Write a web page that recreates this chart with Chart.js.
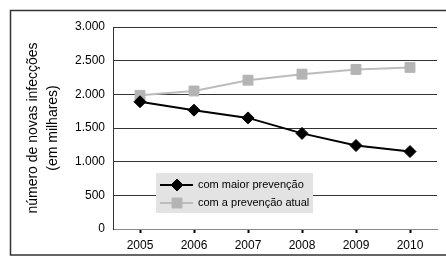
<!DOCTYPE html>
<html>
<head>
<meta charset="utf-8">
<script src="https://cdn.jsdelivr.net/npm/chart.js@4"></script>
<style>
  html, body { margin: 0; padding: 0; background: #fff; }
  canvas { display: block; }
</style>
</head>
<body>
<canvas id="grafico" width="446" height="266"></canvas>
<script>
// anos e valores (em milhares)
const anos = ['2005', '2006', '2007', '2008', '2009', '2010'];
const maior_prevencao = [1890, 1765, 1650, 1420, 1240, 1150];
const prevencao_atual = [1985, 2050, 2210, 2300, 2370, 2400];
const y_ticks = [0, 500, 1000, 1500, 2000, 2500, 3000];
const titulo_y = ['número de novas infecções', '(em milhares)'];

function milhar(v) {
    return v.toString().replace(/\B(?=(\d{3})+(?!\d))/g, '.');
}

// moldura em volta de tudo
const moldura = {
    id: 'moldura',
    beforeDraw(chart) {
        const ctx = chart.ctx;
        ctx.save();
        ctx.strokeStyle = '#333';
        ctx.lineWidth = 1.5;
        ctx.strokeRect(10.5, 10.5, 460, 244.5);
        ctx.restore();
    }
};

// legenda dentro da area do grafico, com fundo cinza
const legenda_caixa = {
    id: 'legenda_caixa',
    afterDatasetsDraw(chart) {
        const ctx = chart.ctx;
        ctx.save();
        ctx.fillStyle = '#e3e3e3';
        ctx.fillRect(156, 173, 157, 40);
        chart.data.datasets.forEach((ds, i) => {
            const y = 185 + i * 18;
            ctx.strokeStyle = ds.borderColor;
            ctx.lineWidth = ds.borderWidth;
            ctx.beginPath();
            ctx.moveTo(160, y);
            ctx.lineTo(193, y);
            ctx.stroke();
            ctx.fillStyle = ds.pointBackgroundColor;
            ctx.strokeStyle = ds.pointBorderColor;
            ctx.lineWidth = 1;
            Chart.helpers.drawPoint(ctx, {
                pointStyle: ds.pointStyle,
                radius: ds.pointRadius,
                rotation: 0,
                borderWidth: 1
            }, 177, y);
            ctx.fillStyle = '#000';
            ctx.font = '11px "Liberation Sans", Arial, sans-serif';
            ctx.textBaseline = 'middle';
            ctx.textAlign = 'left';
            ctx.fillText(ds.label, 198, y);
        });
        ctx.restore();
    }
};

new Chart(document.getElementById('grafico'), {
    type: 'line',
    data: {
        labels: anos,
        datasets: [
            {
                label: 'com maior prevenção',
                data: maior_prevencao,
                borderColor: '#000',
                borderWidth: 2,
                pointStyle: 'rectRot',
                pointRadius: 6,
                pointBackgroundColor: '#000',
                pointBorderColor: '#000',
                pointBorderWidth: 1,
                tension: 0,
            },
            {
                label: 'com a prevenção atual',
                data: prevencao_atual,
                borderColor: '#bcbcbc',
                borderWidth: 2,
                pointStyle: 'rect',
                pointRadius: 7,
                pointBackgroundColor: '#b4b4b4',
                pointBorderColor: '#b4b4b4',
                pointBorderWidth: 1,
                tension: 0,
            },
        ]
    },
    options: {
        responsive: false,
        animation: false,
        devicePixelRatio: 1,
        layout: { padding: { left: 0, top: 27, right: 9, bottom: 0 } },
        plugins: {
            legend: { display: false },
            tooltip: { enabled: false },
        },
        scales: {
            x: {
                offset: true,
                afterFit: s => { s.height = 37; },
                grid: {
                    drawOnChartArea: false,
                    drawTicks: true,
                    tickLength: 4,
                    tickWidth: 2,
                    tickColor: '#000',
                    offset: false,
                },
                border: { color: '#888', width: 1 },
                ticks: {
                    color: '#000',
                    padding: 5,
                    maxRotation: 0,
                    font: { family: '"Liberation Sans", Arial, sans-serif', size: 12 },
                },
            },
            y: {
                min: 0,
                max: 3000,
                afterFit: s => { s.width = 113; },
                afterBuildTicks: s => { s.ticks = y_ticks.map(v => ({ value: v })); },
                grid: { color: '#333', drawTicks: false },
                border: { color: '#333', width: 1 },
                ticks: {
                    color: '#000',
                    padding: 8,
                    callback: v => milhar(v),
                    font: { family: '"Liberation Sans", Arial, sans-serif', size: 12 },
                },
                title: {
                    display: true,
                    text: titulo_y,
                    color: '#000',
                    padding: { top: 23, bottom: 0 },
                    font: { family: '"Liberation Sans", Arial, sans-serif', size: 14, lineHeight: 20 / 14 },
                },
            },
        },
    },
    plugins: [moldura, legenda_caixa],
});
</script>
</body>
</html>
